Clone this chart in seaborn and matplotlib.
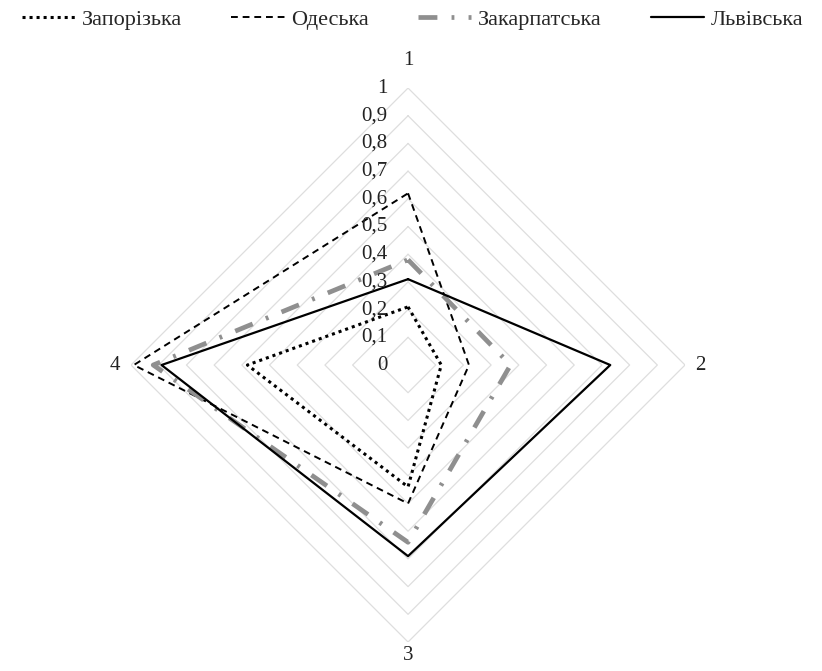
import numpy as np
import matplotlib
matplotlib.use("Agg")
import matplotlib.pyplot as plt
import seaborn as sns

# Data: values on axes 1..4 (top, right, bottom, left)
axis_labels = ["1", "2", "3", "4"]
regions = ["Запорізька", "Одеська", "Закарпатська", "Львівська"]
zaporizka = [0.21, 0.12, 0.44, 0.58]
odeska = [0.62, 0.22, 0.50, 0.99]
zakarpatska = [0.38, 0.37, 0.64, 0.92]
lvivska = [0.31, 0.73, 0.69, 0.89]
tick_values = [0, 0.1, 0.2, 0.3, 0.4, 0.5, 0.6, 0.7, 0.8, 0.9, 1.0]
tick_labels = ["0", "0,1", "0,2", "0,3", "0,4", "0,5", "0,6", "0,7", "0,8", "0,9", "1"]

sns.set_style("white")
plt.rcParams["font.family"] = ["Liberation Serif", "DejaVu Serif"]
plt.rcParams["font.size"] = 15

fig = plt.figure(figsize=(8.22, 6.71), dpi=100)
ax = fig.add_axes([0.1594, 0.0432, 0.674, 0.8256], projection="polar")
ax.set_theta_zero_location("N")
ax.set_theta_direction(-1)

angles = np.linspace(0, 2 * np.pi, len(axis_labels), endpoint=False)
closed = np.append(angles, angles[0])

# diamond grid
for v in tick_values[1:]:
    ax.plot(closed, [v] * len(closed), color="#dedede", lw=0.9, zorder=1)

styles = [
    dict(color="black", linestyle=(0, (1, 1.3)), linewidth=2.2),
    dict(color="black", linestyle=(0, (3.5, 2.5)), linewidth=1.4),
    dict(color="#8f8f8f", linestyle=(0, (4, 3, 0.6, 3)), linewidth=3.4),
    dict(color="black", linestyle="-", linewidth=1.6),
]
series = [zaporizka, odeska, zakarpatska, lvivska]
for name, vals, st in zip(regions, series, styles):
    r = vals + [vals[0]]
    sns.lineplot(x=closed, y=r, ax=ax, sort=False, estimator=None,
                 label=name, zorder=3, **st)

ax.set_ylim(0, 1)
ax.set_xticks([])
ax.set_yticks([])
ax.grid(False)
ax.spines["polar"].set_visible(False)
ax.set_xlabel("")
ax.set_ylabel("")

# radial tick labels beside the top axis
for v, lab in zip(tick_values, tick_labels):
    ax.annotate(lab, xy=(0, v), xytext=(-15, 0), textcoords="offset points",
                ha="right", va="center", fontsize=15, color="#222222")

# axis category labels
label_r = [1.10, 1.055, 1.05, 1.06]
for a, lab, rr in zip(angles, axis_labels, label_r):
    ax.text(a, rr, lab, ha="center", va="center", fontsize=15, color="#222222")

handles, labels = ax.get_legend_handles_labels()
ax.get_legend().remove()
fig.legend(handles, labels, loc="center", bbox_to_anchor=(0.502, 1 - 20 / 671),
           ncol=4, frameon=False, fontsize=16, handlelength=2.4,
           handletextpad=0.3, columnspacing=2.2)

fig.savefig("out.png", dpi=100)
